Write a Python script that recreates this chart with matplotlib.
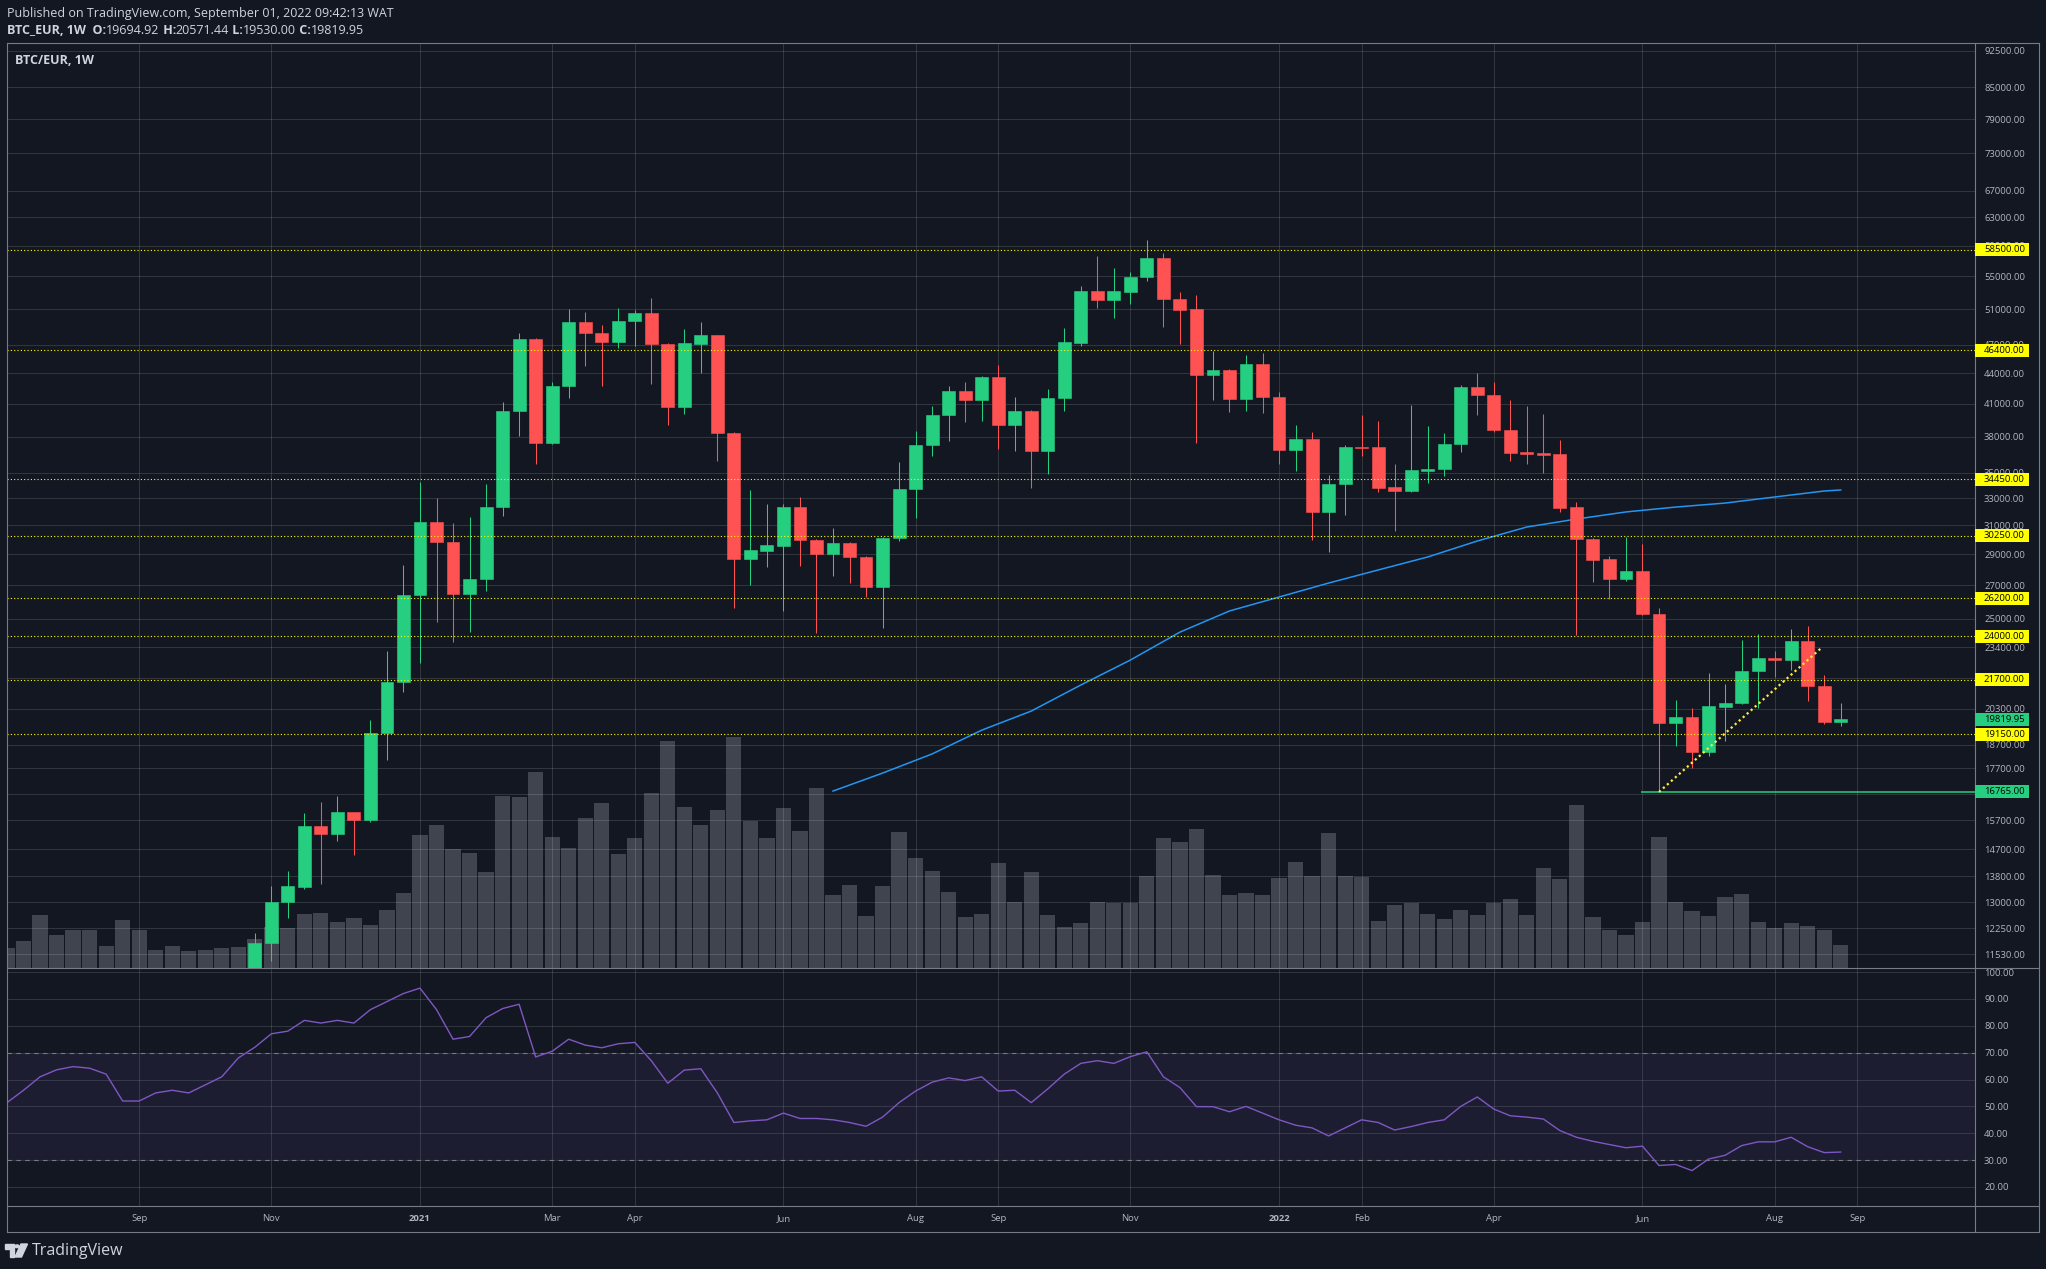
import numpy as np
import pandas as pd
import matplotlib
matplotlib.use("Agg")
import matplotlib.pyplot as plt
from matplotlib.patches import Rectangle, Polygon, Circle
from matplotlib.lines import Line2D
from matplotlib.ticker import FixedLocator, NullLocator, FuncFormatter

W, H = 2046, 1269
BG = "#131722"
TXT = "#d1d4dc"
AXT = "#b2b5be"
FRAME = "#787b86"
UP = "#26cf80"
DN = "#ff5252"
YEL = "#ffff00"
VOLC = "#787b86"

plt.rcParams["font.family"] = ["Open Sans", "DejaVu Sans"]

# ---- data (weekly BTC/EUR) ----
first_week = "2020-07-13"
n_weeks = 112
candle_start = 15   # earlier candles sit below the visible price range

opens = [11050, 11830, 13010, 13470, 15500, 15230, 16000, 15730, 19210, 21590,
         26390, 31220, 29830, 26460, 27390, 32320, 40330, 47600, 37490, 42720,
         49510, 48270, 47280, 49600, 50540, 47060, 40700, 47100, 48050, 38330,
         28670, 29230, 29540, 32320, 29990, 29010, 29750, 28810, 26880, 30100,
         33690, 37290, 39960, 42230, 41360, 43610, 39050, 40330, 36780, 41550,
         47170, 53170, 52080, 53060, 54920, 57370, 52200, 51010, 43810, 44320,
         41460, 44940, 41650, 36860, 37810, 31950, 34080, 37160, 37120, 33850,
         33540, 35140, 35280, 37370, 42620, 41890, 38600, 36690, 36610, 36530,
         32320, 30030, 28670, 27380, 27890, 25260, 19650, 19930, 18380, 20400,
         20580, 22150, 22830, 22720, 23740, 21400, 19694.92]
highs = [12100, 13500, 13970, 15970, 16380, 16600, 16010, 19790, 23190, 28280,
         34230, 33010, 31160, 31580, 34090, 41170, 48270, 47700, 43110, 51010,
         50660, 49170, 51130, 50890, 52320, 47150, 48710, 49510, 48100, 38400,
         33620, 32550, 32550, 33080, 30050, 30800, 29820, 28880, 30150, 35860,
         38510, 40790, 42720, 43110, 43740, 44840, 41650, 40430, 42420, 48830,
         53790, 57640, 56070, 55550, 59800, 58040, 53050, 52680, 46310, 44420,
         45880, 46090, 42130, 39050, 38420, 34800, 37290, 39960, 39410, 35690,
         40890, 38960, 38330, 42820, 44020, 43110, 41360, 40790, 40050, 37720,
         32700, 30100, 28870, 30170, 29680, 25610, 20720, 20340, 22050, 21500,
         23790, 24120, 23200, 24400, 24570, 21950, 20571.44]
lows = [10950, 11350, 12550, 13420, 13570, 14980, 14510, 15650, 18060, 21100,
        22570, 24810, 23660, 24250, 26660, 31680, 38070, 35720, 37400, 41580,
        44760, 42750, 46660, 46880, 42920, 39050, 40050, 44020, 35940, 25610,
        27010, 28150, 25440, 28220, 24180, 27570, 27130, 26270, 24460, 29890,
        31520, 36360, 37630, 39320, 39410, 36950, 36780, 33770, 34880, 40330,
        46840, 51130, 49960, 51600, 54410, 48940, 47060, 37460, 41360, 40230,
        40330, 40140, 35690, 35120, 29960, 29140, 31730, 36360, 33460, 30590,
        33460, 34160, 34720, 36690, 39960, 38420, 35940, 35690, 34960, 31950,
        24070, 27190, 26150, 27260, 25230, 16765, 18640, 17720, 18210, 18850,
        20550, 20340, 21850, 22200, 20670, 19610, 19530.00]
closes = [11830, 13010, 13500, 15500, 15230, 16000, 15730, 19210, 21590, 26390,
          31220, 29830, 26460, 27390, 32320, 40330, 47600, 37490, 42720, 49510,
          48270, 47280, 49620, 50540, 47060, 40700, 47170, 48050, 38330, 28670,
          29280, 29610, 32320, 29960, 29010, 29750, 28810, 26880, 30100, 33690,
          37290, 39960, 42230, 41360, 43610, 39050, 40330, 36780, 41550, 47280,
          53170, 52080, 53170, 54920, 57370, 52200, 50890, 43810, 44320, 41460,
          44940, 41650, 36860, 37810, 31950, 34080, 37120, 37030, 33770, 33540,
          35200, 35280, 37370, 42620, 41840, 38600, 36610, 36530, 36440, 32250,
          30030, 28610, 27380, 27890, 25260, 19650, 19930, 18380, 20440, 20580,
          22150, 22830, 22720, 23740, 21400, 19690, 19819.95]

volume = [20, 27, 53, 33, 38, 38, 22, 48, 38, 18, 22, 17, 18, 20, 21, 29,
          41, 40, 54, 55, 46, 50, 43, 58, 75, 133, 143, 119, 115, 96, 172, 171,
          196, 131, 120, 150, 165, 114, 130, 175, 227, 161, 143, 158, 231, 147,
          130, 160, 137, 180, 73, 83, 52, 82, 136, 110, 97, 76, 51, 54, 105, 66,
          96, 53, 41, 45, 66, 65, 65, 92, 130, 126, 139, 93, 73, 75, 73, 90,
          106, 92, 135, 92, 91, 47, 63, 65, 54, 49, 58, 53, 65, 69, 53, 100,
          89, 163, 51, 38, 33, 46, 131, 66, 57, 52, 71, 74, 46, 40, 45, 42, 38, 23]

rsi = [51.4, 56, 61, 63.6, 64.8, 64.2, 62, 52, 52, 55,
       56, 55, 58, 61, 68, 72, 77, 78, 82, 81,
       82, 81, 86, 89, 92, 94, 86, 75, 76, 83,
       86.4, 88, 68.4, 70.5, 75, 72.8, 71.8, 73.3, 73.8, 67,
       58.6, 63.5, 64, 55, 44, 44.6, 45, 47.5, 45.5, 45.5,
       45, 44, 42.6, 46, 51.4, 55.7, 59, 60.6, 59.6, 61,
       55.7, 56, 51.4, 56.5, 62, 66, 67, 66, 68.5, 70.3,
       61, 57, 49.9, 49.9, 48, 50, 47.5, 45, 43, 42,
       39, 42, 45, 44, 41.2, 42.5, 44, 45, 50, 53.5,
       49, 46.5, 46, 45.3, 41, 38.5, 37, 35.8, 34.6, 35.2,
       28, 28.4, 26.1, 30.4, 31.8, 35.4, 36.8, 36.8, 38.5, 35,
       32.8, 33]

ma_idx = [50, 53, 56, 59, 62, 65, 68, 71, 74, 77, 80, 83, 86, 89, 92, 95,
          98, 101, 104, 107, 110, 111]
ma_val = [16800, 17510, 18300, 19330, 20200, 21450, 22720, 24230, 25440, 26270,
          27130, 27960, 28810, 29890, 30870, 31440, 31960, 32320, 32620, 33080,
          33540, 33620]

levels = [58500, 46400, 34450, 30250, 26200, 24000, 21700, 19150]
support = 16765
support_from = 99
trend_idx = [100, 109.8]
trend_px = [16765, 23340]

price_ticks = [11530, 12250, 13000, 13800, 14700, 15700, 16700, 17700, 18700,
               20300, 21800, 23400, 25000, 27000, 29000, 31000, 33000, 35000,
               38000, 41000, 44000, 47000, 51000, 55000, 59000, 63000, 67000,
               73000, 79000, 85000, 92500]
rsi_ticks = [20, 30, 40, 50, 60, 70, 80, 90, 100]

x_labels = ["Sep", "Nov", "2021", "Mar", "Apr", "Jun", "Aug", "Sep", "Nov",
            "2022", "Feb", "Apr", "Jun", "Aug", "Sep"]
x_label_dates = ["2020-09-07", "2020-11-02", "2021-01-04", "2021-03-01",
                 "2021-04-05", "2021-06-07", "2021-08-02", "2021-09-06",
                 "2021-11-01", "2022-01-03", "2022-02-07", "2022-04-04",
                 "2022-06-06", "2022-08-01", "2022-09-05"]

# ---- layout (pixels of the 2046x1269 canvas) ----
def fx(px):
    return px / W

def fy(py):
    return 1 - py / H

pane_l, pane_r = 7, 1975
main_t, main_b, rsi_b = 43, 968, 1206
bar_px = 16.52
x_max = (pane_r - pane_l) / bar_px

weeks = pd.date_range(first_week, periods=n_weeks, freq="7D")
idx = np.arange(n_weeks)
cidx = idx[candle_start:]
label_pos = ((pd.to_datetime(x_label_dates) - weeks[0]).days / 7).values

fig = plt.figure(figsize=(W / 100, H / 100), dpi=100, facecolor=BG)
rect_main = [fx(pane_l), fy(main_b), fx(pane_r) - fx(pane_l), fy(main_t) - fy(main_b)]
ax_vol = fig.add_axes(rect_main)
ax = fig.add_axes(rect_main)
ax_rsi = fig.add_axes([fx(pane_l), fy(rsi_b), fx(pane_r) - fx(pane_l), fy(main_b) - fy(rsi_b)])

# volume (own linear scale, behind the price pane)
ax_vol.bar(idx, volume, width=0.92, color=VOLC, alpha=0.45, linewidth=0)
ax_vol.set_xlim(0, x_max)
ax_vol.set_ylim(0, 925)
ax_vol.set_axis_off()

# price pane
ax.set_facecolor("none")
o = np.array(opens); c = np.array(closes)
col = [UP if cc >= oo else DN for oo, cc in zip(o, c)]
ax.vlines(cidx, lows, highs, colors=col, linewidth=0.75, zorder=3)
ax.bar(cidx, np.abs(c - o), bottom=np.minimum(o, c), width=0.78, color=col,
       edgecolor=col, linewidth=0.4, zorder=4)
ax.plot(ma_idx, ma_val, color="#2196f3", linewidth=1.1, zorder=3)
for lv in levels:
    ax.axhline(lv, color=YEL, linewidth=0.8, linestyle=(0, (1, 2)), zorder=5)
ax.hlines(support, support_from - 0.1, x_max, color=UP, linewidth=1.1, zorder=5)
ax.plot(trend_idx, trend_px, color="#ffeb3b", linewidth=1.6,
        linestyle=(0, (1, 1.4)), zorder=6)

ax.set_yscale("log")
ax.set_xlim(0, x_max)
ax.set_ylim(11175, 94160)
ax.yaxis.tick_right()
ax.yaxis.set_major_locator(FixedLocator(price_ticks))
ax.yaxis.set_minor_locator(NullLocator())
ax.yaxis.set_major_formatter(FuncFormatter(lambda v, p: f"{v:.2f}"))
ax.set_xticks(label_pos)
ax.set_xticklabels([])
ax.tick_params(axis="both", length=0)
ax.tick_params(axis="y", pad=6.5, labelsize=6.8, labelcolor=AXT)
ax.set_axisbelow(True)
ax.grid(True, color="#ffffff", alpha=0.13, linewidth=0.75)
for s in ax.spines.values():
    s.set_visible(False)

# RSI pane
ax_rsi.set_facecolor("none")
ax_rsi.axhspan(30, 70, color="#7e57c2", alpha=0.1, linewidth=0)
for lv in (70, 30):
    ax_rsi.axhline(lv, color=FRAME, linewidth=0.8, linestyle=(0, (4, 4)))
ax_rsi.plot(idx, rsi, color="#7e57c2", linewidth=1.0)
ax_rsi.set_xlim(0, x_max)
ax_rsi.set_ylim(12.93, 101.49)
ax_rsi.yaxis.tick_right()
ax_rsi.yaxis.set_major_locator(FixedLocator(rsi_ticks))
ax_rsi.yaxis.set_major_formatter(FuncFormatter(lambda v, p: f"{v:.2f}"))
ax_rsi.set_xticks(label_pos)
ax_rsi.set_xticklabels(x_labels)
for t in ax_rsi.get_xticklabels():
    if t.get_text() in ("2021", "2022"):
        t.set_fontweight("bold")
ax_rsi.tick_params(axis="both", length=0, labelsize=6.8, labelcolor=AXT)
ax_rsi.tick_params(axis="y", pad=6.5)
ax_rsi.tick_params(axis="x", pad=6)
ax_rsi.set_axisbelow(True)
ax_rsi.grid(True, color="#ffffff", alpha=0.13, linewidth=0.75)
for s in ax_rsi.spines.values():
    s.set_visible(False)

# frame lines
def hline(py, x0=6.5, x1=2039):
    fig.add_artist(Line2D([fx(x0), fx(x1)], [fy(py), fy(py)], color=FRAME, linewidth=0.8))

def vline(px, y0=43, y1=1232):
    fig.add_artist(Line2D([fx(px), fx(px)], [fy(y0), fy(y1)], color=FRAME, linewidth=0.8))

for py in (main_t, main_b, rsi_b, 1232):
    hline(py)
for px in (6.5, pane_r, 2039):
    vline(px)

# price labels on the right scale
inv = fig.transFigure.inverted()

def fig_y(v):
    return inv.transform(ax.transData.transform((0, v)))[1]

def tag(v, face, txt):
    yc = fig_y(v)
    fig.add_artist(Rectangle((fx(pane_r), yc - 6.5 / H), fx(2029) - fx(pane_r), 13 / H,
                             transform=fig.transFigure, facecolor=face,
                             edgecolor="none", zorder=10))
    fig.text(fx(1984), yc, txt, fontsize=6.8, color="#000000", va="center",
             ha="left", zorder=11)

for lv in levels:
    tag(lv, YEL, f"{lv:.2f}")
tag(support, UP, f"{support:.2f}")
tag(closes[-1], UP, f"{closes[-1]:.2f}")

# header
fig.text(fx(7), fy(13), "Published on TradingView.com, September 01, 2022 09:42:13 WAT",
         fontsize=9, color=TXT, va="center", ha="left")
t = fig.text(fx(7), fy(30), "BTC_EUR, 1W", fontsize=9, color=TXT, va="center",
             ha="left", fontweight="bold")
pieces = [("  O:", "bold"), (f"{opens[-1]:.2f}", "normal"), (" H:", "bold"),
          (f"{highs[-1]:.2f}", "normal"), (" L:", "bold"), (f"{lows[-1]:.2f}", "normal"),
          (" C:", "bold"), (f"{closes[-1]:.2f}", "normal")]
for s, wgt in pieces:
    t = ax.annotate(s, xy=(1, 0), xycoords=t, va="bottom", ha="left", fontsize=9,
                    color=TXT, fontweight=wgt, annotation_clip=False)
fig.text(fx(15), fy(61), "BTC/EUR, 1W", fontsize=9, color=TXT, va="center",
         ha="left", fontweight="bold")

# footer logo
logo_c = TXT
fig.add_artist(Polygon([(fx(5), fy(1244)), (fx(14), fy(1244)), (fx(14), fy(1257)),
                        (fx(9.5), fy(1257)), (fx(9.5), fy(1248.5)), (fx(5), fy(1248.5))],
                       closed=True, transform=fig.transFigure, color=logo_c))
fig.add_artist(Circle((fx(17), fy(1246.3)), 2.2 / W, transform=fig.transFigure,
                      color=logo_c))
fig.add_artist(Polygon([(fx(21), fy(1244)), (fx(27.5), fy(1244)), (fx(21.5), fy(1257)),
                        (fx(15), fy(1257))], closed=True, transform=fig.transFigure,
                       color=logo_c))
fig.text(fx(32), fy(1251), "TradingView", fontsize=11.5, color=logo_c, va="center",
         ha="left")

fig.savefig("out.png", dpi=100, facecolor=BG)
